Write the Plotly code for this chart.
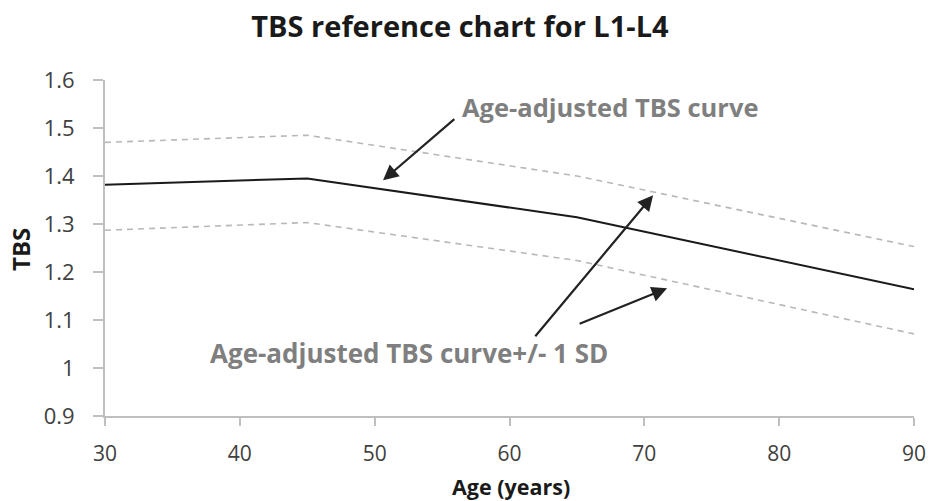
import plotly.graph_objects as go

ages = [30, 45, 65, 90]
tbs_mean = [1.382, 1.395, 1.314, 1.164]
tbs_upper = [1.470, 1.485, 1.400, 1.253]
tbs_lower = [1.287, 1.303, 1.224, 1.071]

x_ticks = [30, 40, 50, 60, 70, 80, 90]
y_ticks = [0.9, 1.0, 1.1, 1.2, 1.3, 1.4, 1.5, 1.6]
y_tick_text = ["0.9", "1", "1.1", "1.2", "1.3", "1.4", "1.5", "1.6"]

FONT = "'Open Sans', Lato, sans-serif"

fig = go.Figure()
fig.add_trace(go.Scatter(x=ages, y=tbs_upper, mode="lines",
                         line=dict(color="#b8b8b8", width=1.6, dash="6px,5px"),
                         showlegend=False, hoverinfo="skip"))
fig.add_trace(go.Scatter(x=ages, y=tbs_lower, mode="lines",
                         line=dict(color="#b8b8b8", width=1.6, dash="6px,5px"),
                         showlegend=False, hoverinfo="skip"))
fig.add_trace(go.Scatter(x=ages, y=tbs_mean, mode="lines",
                         line=dict(color="#1a1a1a", width=2),
                         showlegend=False, hoverinfo="skip"))

arrows = [
    ((50.62, 1.391), (56.02, 1.521)),
    ((70.65, 1.360), (61.82, 1.063)),
    ((71.69, 1.166), (65.09, 1.091)),
]
anns = []
for (hx, hy), (tx, ty) in arrows:
    anns.append(dict(x=hx, y=hy, ax=tx, ay=ty, xref="x", yref="y",
                     axref="x", ayref="y", text="", showarrow=True,
                     arrowhead=2, arrowsize=1.4, arrowwidth=2.2,
                     arrowcolor="#222222"))
anns.append(dict(x=56.3, y=1.544, xref="x", yref="y", xanchor="left",
                 yanchor="middle", text="<b>Age-adjusted TBS curve</b>",
                 showarrow=False, font=dict(family=FONT, size=25.5, color="#7f7f7f")))
anns.append(dict(x=37.64, y=1.032, xref="x", yref="y", xanchor="left",
                 yanchor="middle", text="<b>Age-adjusted TBS curve+/- 1 SD</b>",
                 showarrow=False, font=dict(family=FONT, size=26, color="#7f7f7f")))
# axis titles
anns.append(dict(x=0.502, y=0, xref="paper", yref="paper", xanchor="center",
                 yanchor="middle", yshift=-70, text="<b>Age (years)</b>",
                 showarrow=False, font=dict(family=FONT, size=21.5, color="#1a1a1a")))
anns.append(dict(x=0, y=0.494, xref="paper", yref="paper", xanchor="center",
                 yanchor="middle", xshift=-85, textangle=-90, text="<b>TBS</b>",
                 showarrow=False, font=dict(family=FONT, size=24, color="#1a1a1a")))

fig.update_layout(
    width=933, height=501,
    margin=dict(l=105, r=19, t=80, b=85),
    paper_bgcolor="white", plot_bgcolor="white",
    title=dict(text="<b>TBS reference chart for L1-L4</b>", x=0.493, xanchor="center",
               y=0.947, yanchor="middle",
               font=dict(family=FONT, size=29, color="#1a1a1a")),
    annotations=anns,
    xaxis=dict(range=[30, 90], tickvals=x_ticks, showgrid=False, zeroline=False,
               showline=True, linecolor="#bfbfbf", linewidth=2, automargin=False,
               ticks="outside", ticklen=8, tickcolor="#bfbfbf", tickwidth=2,
               ticklabelstandoff=10, ticklabeloverflow="allow",
               tickfont=dict(family=FONT, size=21, color="#404040")),
    yaxis=dict(range=[0.9, 1.6], tickvals=y_ticks, ticktext=y_tick_text,
               showgrid=False, zeroline=False, automargin=False,
               showline=True, linecolor="#bfbfbf", linewidth=2,
               ticks="outside", ticklen=10, tickcolor="#bfbfbf", tickwidth=2,
               ticklabelstandoff=14, ticklabeloverflow="allow",
               tickfont=dict(family=FONT, size=22, color="#404040")),
)

fig.write_html("out.html", config={"displayModeBar": False},
               post_script="document.body.style.margin='0';document.body.style.overflow='hidden';")
